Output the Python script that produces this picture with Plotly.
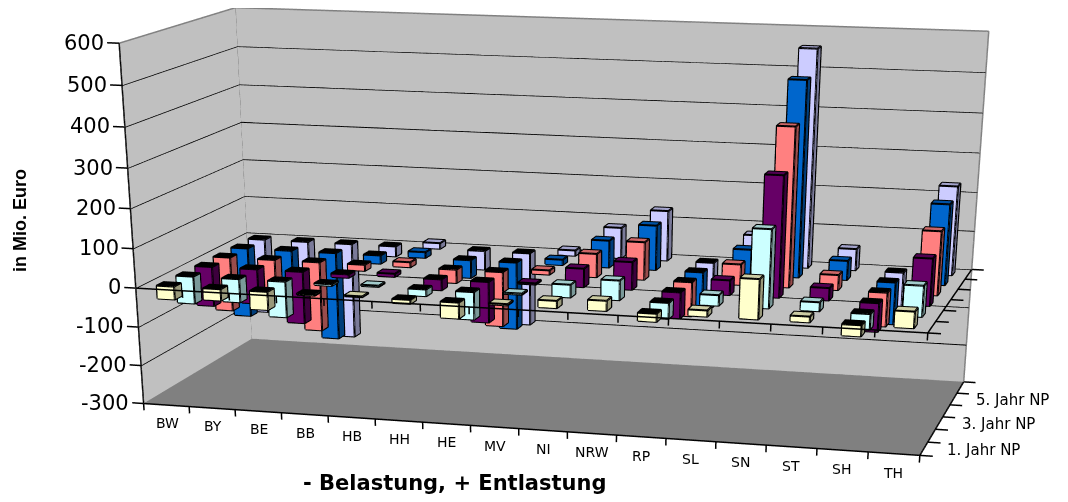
import plotly.graph_objects as go

categories = ["BW","BY","BE","BB","HB","HH","HE","MV","NI","NRW","RP","SL","SN","ST","SH","TH"]
series_names = ["1. Jahr NP","2. Jahr NP","3. Jahr NP","4. Jahr NP","5. Jahr NP","6. Jahr NP"]
jahr1 = [-33,-29,-46,-3,2,-10,-40,3,18,25,-20,15,98,14,-27,40]
jahr2 = [-70,-60,-92,-4,3,-17,-70,3,32,49,-40,26,194,22,-39,76]
jahr3 = [-103,-90,-135,-9,8,-28,-105,3,47,70,-66,37,302,31,-72,117]
jahr4 = [-142,-125,-182,-16,13,-35,-142,11,60,96,-88,52,400,38,-86,160]
jahr5 = [-184,-160,-232,-22,15,-47,-177,14,70,115,-105,65,495,49,-108,204]
jahr6 = [-200,-175,-255,-27,15,-50,-193,14,80,130,-118,78,555,55,-125,227]
series_values = [jahr1,jahr2,jahr3,jahr4,jahr5,jahr6]
colors = ["#FFFFCC","#CCFFFF","#660066","#FF8080","#0066CC","#CCCCFF"]
z_ticks = [-300,-200,-100,0,100,200,300,400,500,600]

NC, NS = len(categories), len(series_names)
ZMIN, ZMAX = z_ticks[0], z_ticks[-1]
BAR_W, BAR_D = 0.375, 0.35
PX, PY, PZ = 2.0, 1.0, 150

def shade(c, k):
    r, g, b = int(c[1:3],16), int(c[3:5],16), int(c[5:7],16)
    return "rgb(%d,%d,%d)" % (r*k, g*k, b*k)

fig = go.Figure()
FLAT = dict(ambient=1, diffuse=0, specular=0, fresnel=0, roughness=1)

def add_quads(quads, cols):
    X,Y,Z,I,J,K,FC = [],[],[],[],[],[],[]
    for q,c in zip(quads,cols):
        n=len(X)
        for p in q:
            X.append(p[0]);Y.append(p[1]);Z.append(p[2])
        I += [n,n]; J += [n+1,n+2]; K += [n+2,n+3]; FC += [c,c]
    fig.add_trace(go.Mesh3d(x=X,y=Y,z=Z,i=I,j=J,k=K,facecolor=FC,flatshading=True,
                            lighting=FLAT,hoverinfo="skip",showscale=False))

def add_lines(segs, color, width):
    X,Y,Z=[],[],[]
    for s in segs:
        for p in s:
            X.append(p[0]);Y.append(p[1]);Z.append(p[2])
        X.append(None);Y.append(None);Z.append(None)
    fig.add_trace(go.Scatter3d(x=X,y=Y,z=Z,mode="lines",line=dict(color=color,width=width),
                               hoverinfo="skip",showlegend=False))

# walls and floor
add_quads([[(0,0,ZMIN),(0,NS,ZMIN),(0,NS,ZMAX),(0,0,ZMAX)],
           [(0,NS,ZMIN),(NC,NS,ZMIN),(NC,NS,ZMAX),(0,NS,ZMAX)],
           [(0,0,ZMIN),(NC,0,ZMIN),(NC,NS,ZMIN),(0,NS,ZMIN)]],
          ["#C0C0C0","#C0C0C0","#808080"])
add_lines([[(0,0,t),(0,NS,t),(NC,NS,t)] for t in z_ticks[1:-1]],"#000000",3)
add_lines([[(0,0,ZMAX),(0,NS,ZMAX),(NC,NS,ZMAX)],[(0,NS,ZMIN),(0,NS,ZMAX)],[(NC,NS,ZMIN),(NC,NS,ZMAX)],
           [(0,0,ZMIN),(0,NS,ZMIN),(NC,NS,ZMIN)]],"#808080",3)
add_lines([[(0,0,ZMIN),(0,0,ZMAX)]],"#000000",3)
# axes at the floor and at the zero plane, with their tick marks
TX = 0.25
ax=[[(0,0,ZMIN),(NC,0,ZMIN),(NC,NS,ZMIN)],[(0,0,0),(NC,0,0),(NC,NS,0)]]
for z0 in (ZMIN,0):
    ax+=[[(i,0,z0),(i,0,z0-18)] for i in range(NC+1)]
    ax+=[[(NC,s,z0),(NC+TX,s,z0)] for s in range(NS+1)]
add_lines(ax,"#000000",3)
add_lines([[(0,0,t),(-TX,0,t)] for t in z_ticks],"#000000",3)

# bars
for s,(vals,col) in enumerate(zip(series_values,colors)):
    quads,cols,segs=[],[],[]
    for i,v in enumerate(vals):
        x0,x1=i+.5-BAR_W/2,i+.5+BAR_W/2
        y0,y1=s+.5-BAR_D/2,s+.5+BAR_D/2
        lo,hi=min(v,0),max(v,0)
        quads+=[[(x0,y0,lo),(x1,y0,lo),(x1,y0,hi),(x0,y0,hi)],
                [(x1,y0,lo),(x1,y1,lo),(x1,y1,hi),(x1,y0,hi)],
                [(x0,y0,hi),(x1,y0,hi),(x1,y1,hi),(x0,y1,hi)]]
        cols+=[col,shade(col,.6),shade(col,.8) if v>=0 else "#000000"]
        segs+=[[(x0,y0,lo),(x1,y0,lo),(x1,y1,lo),(x1,y1,hi),(x0,y1,hi),(x0,y0,hi),(x0,y0,lo)],
               [(x0,y0,hi),(x1,y0,hi),(x1,y1,hi)],[(x1,y0,hi),(x1,y0,lo)]]
    add_quads(quads,cols)
    add_lines(segs,"#000000",4)

FONT="DejaVu Sans"
ann=[]
for i,c in enumerate(categories):
    ann.append(dict(x=i+.5,y=0,z=ZMIN-48,text=c,showarrow=False,font=dict(family=FONT,size=14,color="#000"),xanchor="center",yanchor="middle"))
for s in (0,2,4):
    ann.append(dict(x=NC+.42,y=s+.5,z=ZMIN,text=series_names[s],showarrow=False,font=dict(family=FONT,size=15,color="#000"),xanchor="left",yanchor="middle"))
for t in z_ticks:
    ann.append(dict(x=-.27,y=0,z=t,text=str(t),showarrow=False,font=dict(family=FONT,size=21,color="#000"),xanchor="right",yanchor="middle"))

W,H=1068,2300
eye=(.9348,-3.5333,.6317); cen=(.2335,-.9484,-.8209); up=(-.0021,-.0061,1)
DX,DY,DZ=1.0,.396,.4321
fig.update_layout(
    width=W,height=H,margin=dict(l=0,r=0,t=0,b=0),paper_bgcolor="#FFFFFF",showlegend=False,
    scene=dict(domain=dict(x=[0,1],y=[0,1]),
        xaxis=dict(visible=False,range=[-PX,NC+PX]),
        yaxis=dict(visible=False,range=[-PY,NS+PY]),
        zaxis=dict(visible=False,range=[ZMIN-PZ,ZMAX+PZ]),
        aspectmode="manual",
        aspectratio=dict(x=DX*(NC+2*PX)/NC,y=DY*(NS+2*PY)/NS,z=DZ*(ZMAX-ZMIN+2*PZ)/(ZMAX-ZMIN)),
        camera=dict(eye=dict(x=eye[0],y=eye[1],z=eye[2]),center=dict(x=cen[0],y=cen[1],z=cen[2]),up=dict(x=up[0],y=up[1],z=up[2]),projection=dict(type="perspective")),
        annotations=ann),
    annotations=[
        dict(xref="paper",yref="paper",x=12/W,y=1-213/H,xanchor="center",yanchor="middle",text="<b>in Mio. Euro</b>",textangle=-90,showarrow=False,font=dict(family="Liberation Sans",size=18,color="#000")),
        dict(xref="paper",yref="paper",x=447/W,y=1-475/H,xanchor="center",yanchor="middle",text="<b>- Belastung, + Entlastung</b>",showarrow=False,font=dict(family=FONT,size=21,color="#000")),
    ])
fig.write_html("out.html")
